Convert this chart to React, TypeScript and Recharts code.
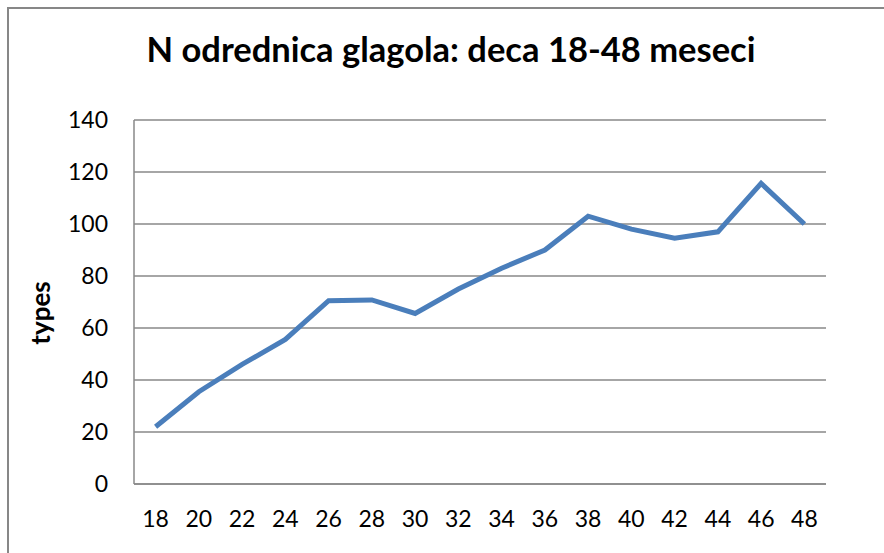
import { LineChart, Line, XAxis, YAxis, CartesianGrid } from "recharts";

const months = ["18", "20", "22", "24", "26", "28", "30", "32", "34", "36", "38", "40", "42", "44", "46", "48"];
const types = [22, 35.5, 46, 55.6, 70.5, 70.8, 65.6, 75, 83, 90, 103, 98, 94.5, 97, 115.6, 100];
const yTicks = [0, 20, 40, 60, 80, 100, 120, 140];

const data = months.map((month, i) => ({ month, types: types[i] }));

const FONT = "Lato, 'Open Sans', sans-serif";
const GRID = "#888888";

export default function App() {
  return (
    <div style={{ position: "relative", width: 884, height: 553, background: "#fff", fontFamily: FONT, overflow: "hidden" }}>
      <style>{`body{margin:0}`}</style>
      {/* chart frame, only left and top edges are in view */}
      <div
        style={{
          position: "absolute",
          left: 7,
          top: 7,
          width: 900,
          height: 600,
          borderLeft: "2px solid #878787",
          borderTop: "2px solid #878787",
        }}
      />
      <div
        style={{
          position: "absolute",
          left: 0,
          width: 902,
          top: 27,
          textAlign: "center",
          fontWeight: 700,
          fontSize: 34.5,
          color: "#000",
          lineHeight: "44px",
        }}
      >
        N odrednica glagola: deca 18-48 meseci
      </div>
      <div
        style={{
          position: "absolute",
          left: 40,
          top: 313,
          transform: "translate(-50%, -50%) rotate(-90deg)",
          fontWeight: 700,
          fontSize: 26,
          color: "#000",
          whiteSpace: "nowrap",
        }}
      >
        types
      </div>
      <div style={{ position: "absolute", left: 0, top: 0 }}>
        <LineChart width={884} height={553} data={data} margin={{ top: 120, right: 58, left: 74, bottom: 0 }}>
          <CartesianGrid stroke={GRID} strokeWidth={1.5} vertical={false} />
          <XAxis
            dataKey="month"
            padding={{ left: 21.6, right: 21.6 }}
            tickLine={false}
            tickSize={0}
            tickMargin={27}
            axisLine={{ stroke: GRID, strokeWidth: 1.5 }}
            tick={{ fill: "#000", fontSize: 23, fontFamily: FONT }}
            interval={0}
            height={69}
          />
          <YAxis
            domain={[0, 140]}
            ticks={yTicks}
            width={60}
            tickLine={false}
            tickSize={0}
            tickMargin={26}
            axisLine={{ stroke: GRID, strokeWidth: 1.5 }}
            tick={{ fill: "#000", fontSize: 23, fontFamily: FONT }}
          />
          <Line
            type="linear"
            dataKey="types"
            stroke="#4A7EBB"
            strokeWidth={5}
            dot={false}
            activeDot={false}
            isAnimationActive={false}
          />
        </LineChart>
      </div>
    </div>
  );
}
